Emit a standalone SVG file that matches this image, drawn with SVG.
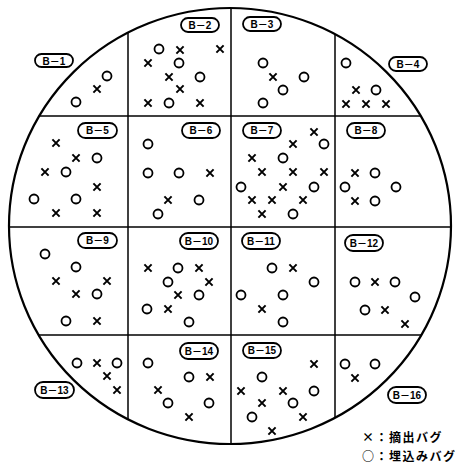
<svg xmlns="http://www.w3.org/2000/svg" xmlns:xlink="http://www.w3.org/1999/xlink" width="463" height="467" viewBox="0 0 463 467">
<style>
.frame{fill:none;stroke:#000;stroke-width:2.2}
.grid line{stroke:#000;stroke-width:1.5}
.pill{fill:#fff;stroke:#000;stroke-width:1.8}
.lbl{font-family:"Liberation Sans","Noto Sans CJK JP",sans-serif;font-size:10px;font-weight:bold;text-anchor:middle}
.leg{font-family:"Noto Sans CJK JP",sans-serif;font-size:12px;font-weight:bold;letter-spacing:1.5px}
</style>
<defs>
<circle id="o" r="4.5" fill="none" stroke="#000" stroke-width="1.8"/>
<path id="x" d="M-3.6,-3.6L3.6,3.6M3.6,-3.6L-3.6,3.6" stroke="#000" stroke-width="2" fill="none"/>
</defs>
<rect width="463" height="467" fill="#fff"/>
<ellipse class="frame" cx="230" cy="226" rx="221" ry="218"/>
<g id="connectors" class="grid">
<line x1="128" y1="32.6" x2="128" y2="419.4"/>
<line x1="231" y1="8" x2="231" y2="444"/>
<line x1="335" y1="34.2" x2="335" y2="417.8"/>
<line x1="39.2" y1="116" x2="420.8" y2="116"/>
<line x1="9" y1="227" x2="451" y2="227"/>
<line x1="38.6" y1="335" x2="421.4" y2="335"/>
</g>
<g id="B-1">
<rect class="pill" x="35" y="54" width="38" height="13" rx="6.5"/><text class="lbl" x="54" y="64.5">B－1</text>
<use href="#o" x="107" y="76"/><use href="#x" x="97" y="89"/><use href="#o" x="76" y="102"/>
</g>
<g id="B-2">
<rect class="pill" x="181" y="18" width="38" height="14" rx="7"/><text class="lbl" x="200" y="28.5">B－2</text>
<use href="#o" x="159" y="49"/><use href="#x" x="180" y="50"/><use href="#x" x="220" y="49"/>
<use href="#x" x="148" y="63"/><use href="#o" x="179" y="63"/><use href="#x" x="169" y="77"/>
<use href="#o" x="200" y="77"/><use href="#x" x="180" y="89"/><use href="#x" x="148" y="103"/>
<use href="#o" x="169" y="103"/><use href="#x" x="200" y="103"/>
</g>
<g id="B-3">
<rect class="pill" x="243" y="17" width="38" height="14" rx="7"/><text class="lbl" x="262" y="27.5">B－3</text>
<use href="#o" x="263" y="63"/><use href="#x" x="273" y="77"/><use href="#o" x="304" y="77"/>
<use href="#o" x="283" y="90"/><use href="#o" x="263" y="103"/>
</g>
<g id="B-4">
<rect class="pill" x="389" y="57" width="38" height="14" rx="7"/><text class="lbl" x="408" y="67.5">B－4</text>
<use href="#o" x="346" y="63"/><use href="#x" x="356" y="90"/><use href="#o" x="376" y="90"/>
<use href="#x" x="346" y="104"/><use href="#x" x="366" y="104"/><use href="#x" x="386" y="104"/>
</g>
<g id="B-5">
<rect class="pill" x="78" y="123" width="39" height="15" rx="7.5"/><text class="lbl" x="97.5" y="134">B－5</text>
<use href="#x" x="56" y="143"/><use href="#x" x="76" y="158"/><use href="#o" x="97" y="158"/>
<use href="#x" x="45" y="172"/><use href="#o" x="66" y="172"/><use href="#x" x="97" y="187"/>
<use href="#o" x="34" y="199"/><use href="#o" x="76" y="199"/><use href="#x" x="56" y="213"/>
<use href="#x" x="97" y="213"/>
</g>
<g id="B-6">
<rect class="pill" x="182" y="123" width="38" height="15" rx="7.5"/><text class="lbl" x="201" y="134">B－6</text>
<use href="#o" x="148" y="144"/><use href="#o" x="148" y="173"/><use href="#o" x="179" y="173"/>
<use href="#x" x="210" y="173"/><use href="#x" x="168" y="200"/><use href="#o" x="199" y="200"/>
<use href="#o" x="158" y="214"/>
</g>
<g id="B-7">
<rect class="pill" x="243" y="123" width="38" height="15" rx="7.5"/><text class="lbl" x="262" y="134">B－7</text>
<use href="#x" x="314" y="132"/><use href="#x" x="293" y="144"/><use href="#o" x="324" y="144"/>
<use href="#x" x="252" y="158"/><use href="#o" x="283" y="158"/><use href="#x" x="262" y="172"/>
<use href="#x" x="293" y="172"/><use href="#x" x="324" y="172"/><use href="#o" x="241" y="187"/>
<use href="#x" x="283" y="187"/><use href="#o" x="314" y="187"/><use href="#x" x="252" y="200"/>
<use href="#x" x="272" y="200"/><use href="#x" x="303" y="200"/><use href="#x" x="262" y="214"/>
<use href="#o" x="293" y="214"/>
</g>
<g id="B-8">
<rect class="pill" x="347" y="123" width="38" height="15" rx="7.5"/><text class="lbl" x="366" y="134">B－8</text>
<use href="#x" x="355" y="173"/><use href="#o" x="375" y="173"/><use href="#o" x="345" y="187"/>
<use href="#o" x="396" y="187"/><use href="#x" x="355" y="201"/><use href="#o" x="375" y="201"/>
</g>
<g id="B-9">
<rect class="pill" x="78" y="233" width="39" height="15" rx="7.5"/><text class="lbl" x="97.5" y="244">B－9</text>
<use href="#o" x="45" y="254"/><use href="#o" x="76" y="267"/><use href="#x" x="56" y="281"/>
<use href="#x" x="107" y="281"/><use href="#x" x="76" y="294"/><use href="#o" x="97" y="294"/>
<use href="#o" x="66" y="321"/><use href="#x" x="97" y="321"/>
</g>
<g id="B-10">
<rect class="pill" x="180" y="233" width="38" height="16" rx="8"/><text class="lbl" x="199" y="244.5">B－10</text>
<use href="#x" x="148" y="268"/><use href="#o" x="178" y="268"/><use href="#x" x="199" y="268"/>
<use href="#o" x="168" y="282"/><use href="#x" x="209" y="282"/><use href="#x" x="178" y="295"/>
<use href="#o" x="199" y="295"/><use href="#o" x="147" y="309"/><use href="#x" x="168" y="309"/>
<use href="#o" x="189" y="322"/>
</g>
<g id="B-11">
<rect class="pill" x="242" y="233" width="38" height="16" rx="8"/><text class="lbl" x="261" y="244.5">B－11</text>
<use href="#o" x="272" y="268"/><use href="#x" x="293" y="268"/><use href="#o" x="314" y="282"/>
<use href="#o" x="241" y="295"/><use href="#o" x="283" y="295"/><use href="#x" x="262" y="309"/>
<use href="#o" x="283" y="322"/>
</g>
<g id="B-12">
<rect class="pill" x="345" y="235" width="38" height="16" rx="8"/><text class="lbl" x="364" y="246.5">B－12</text>
<use href="#o" x="355" y="282"/><use href="#x" x="375" y="282"/><use href="#o" x="395" y="282"/>
<use href="#o" x="415" y="297"/><use href="#o" x="365" y="310"/><use href="#x" x="385" y="310"/>
<use href="#x" x="405" y="324"/>
</g>
<g id="B-13">
<rect class="pill" x="35" y="382" width="39" height="16" rx="8"/><text class="lbl" x="54.5" y="393.5">B－13</text>
<use href="#o" x="77" y="363"/><use href="#x" x="97" y="363"/><use href="#o" x="117" y="363"/>
<use href="#x" x="107" y="376"/><use href="#x" x="117" y="390"/>
</g>
<g id="B-14">
<rect class="pill" x="180" y="343" width="38" height="16" rx="8"/><text class="lbl" x="199" y="354.5">B－14</text>
<use href="#o" x="148" y="363"/><use href="#o" x="189" y="377"/><use href="#x" x="210" y="377"/>
<use href="#x" x="158" y="390"/><use href="#o" x="168" y="403"/><use href="#o" x="209" y="403"/>
<use href="#x" x="189" y="417"/>
</g>
<g id="B-15">
<rect class="pill" x="243" y="343" width="38" height="15" rx="7.5"/><text class="lbl" x="262" y="354">B－15</text>
<use href="#x" x="314" y="364"/><use href="#o" x="262" y="377"/><use href="#x" x="241" y="391"/>
<use href="#x" x="283" y="391"/><use href="#o" x="314" y="391"/><use href="#x" x="262" y="403"/>
<use href="#o" x="293" y="403"/><use href="#o" x="252" y="417"/><use href="#x" x="303" y="417"/>
<use href="#x" x="272" y="431"/>
</g>
<g id="B-16">
<rect class="pill" x="388" y="387" width="38" height="16" rx="8"/><text class="lbl" x="407" y="398.5">B－16</text>
<use href="#o" x="345" y="364"/><use href="#o" x="375" y="364"/><use href="#x" x="355" y="378"/>
</g>
<g id="legend">
<text class="leg" x="362" y="442">×：摘出バグ</text>
<text class="leg" x="362" y="461">○：埋込みバグ</text>
</g>
</svg>
